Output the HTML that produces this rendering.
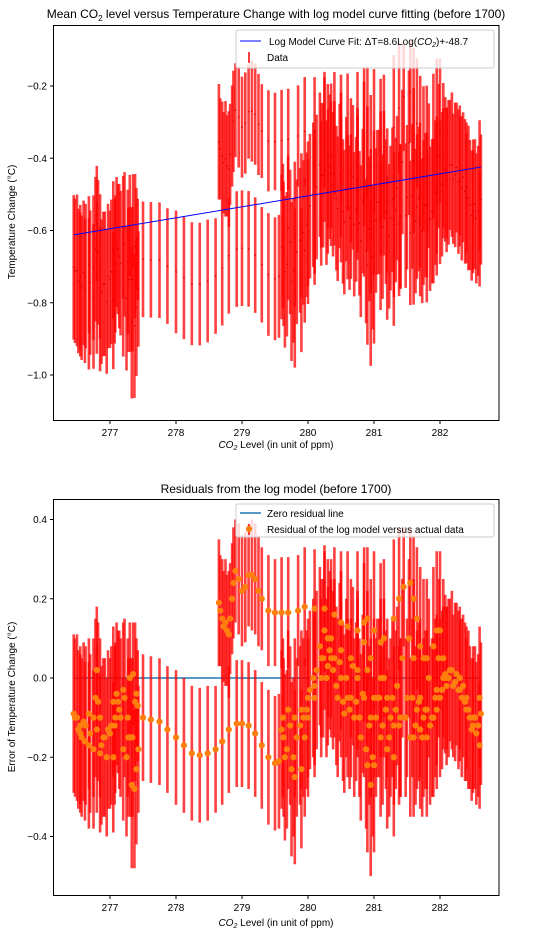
<!DOCTYPE html>
<html><head><meta charset="utf-8"><style>
body{margin:0;background:#fff;}
svg text{font-family:"Liberation Sans","DejaVu Sans",sans-serif;fill:#000;}
</style></head><body>
<svg id="chart" width="545" height="937" viewBox="0 0 545 937" xmlns="http://www.w3.org/2000/svg">
<rect width="545" height="937" fill="#fff"/>
<g id="p1"></g>
<g id="p2"></g>
</svg>
<script>
// CO2 levels (ppm)
const co2Values = [
276.45,276.5,276.55,276.6,276.68,276.75,276.8,276.9,277.0,277.05,277.1,277.2,277.3,277.35,277.4,277.42,
276.55,276.62,276.68,276.75,276.85,276.95,277.05,277.2,277.28,277.33,277.37,277.4,277.43,
276.8,276.82,276.85,276.92,277.02,277.08,277.12,277.16,277.25,277.31,
277.5,277.62,277.75,277.87,278.0,278.12,278.24,278.36,278.48,278.6,278.7,278.8,278.92,279.0,279.1,279.2,279.3,279.4,279.5,279.56,
278.65,278.7,278.75,278.8,278.85,278.9,279.0,279.1,279.2,279.3,279.4,279.5,
279.6,279.7,279.85,279.95,280.1,280.25,280.4,280.5,280.6,280.75,280.85,280.9,281.0,281.1,281.15,281.3,281.38,281.45,281.55,281.6,281.65,281.7,281.75,281.8,281.9,281.95,282.0,282.05,
279.6,279.65,279.75,279.8,279.9,279.95,280.0,280.1,280.2,280.3,280.4,280.5,280.6,280.7,280.8,280.9,280.95,281.0,281.1,281.2,281.3,281.4,281.5,281.6,281.7,281.8,281.95,282.05,282.15,282.3,282.4,282.5,282.6,
279.62,279.7,279.8,279.9,280.0,280.1,280.2,280.3,280.35,280.45,280.55,280.65,280.75,280.85,280.9,280.95,281.0,281.1,281.2,281.3,281.4,281.55,281.65,281.75,281.8,281.9,282.0,282.1,282.2,282.3,282.4,282.5,282.6,
280.25,280.35,280.5,280.65,280.75,280.85,280.95,281.05,281.15,281.25,281.35,281.6,281.7,281.85,281.95,282.1,282.25,282.35,282.45,282.55,282.62,
276.47,276.52,276.57,276.63,276.7,276.78,276.87,276.97,277.07,277.14,277.22,277.27,277.34,277.38,
278.67,278.72,278.77,278.82,278.87,278.95,279.05,279.15,279.25,
279.63,279.68,279.73,279.78,279.83,279.88,279.93,279.98,280.03,280.08,280.13,280.18,280.23,280.28,280.33,280.38,280.43,280.48,280.53,280.58,
280.63,280.68,280.73,280.78,280.83,280.88,280.93,280.98,281.03,281.08,281.13,281.18,281.23,281.28,281.33,281.38,281.43,281.48,281.53,281.58,
281.63,281.68,281.73,281.78,281.83,281.88,281.93,281.98,282.03,282.08,282.13,282.18,282.23,282.28,282.33,282.38,282.43,282.48,282.53,282.58
];
// Residual (temperature minus log-model fit, °C)
const residualValues = [
-0.09,-0.1,-0.12,-0.11,-0.09,-0.1,-0.13,-0.15,-0.14,-0.06,-0.04,-0.03,0.0,0.01,-0.04,-0.07,
-0.14,-0.16,-0.17,-0.18,-0.19,-0.2,-0.2,-0.18,-0.15,-0.27,-0.28,-0.23,-0.18,
0.02,-0.06,-0.1,-0.15,-0.12,-0.1,-0.06,-0.1,-0.2,-0.15,
-0.1,-0.105,-0.11,-0.13,-0.15,-0.17,-0.19,-0.195,-0.19,-0.18,-0.16,-0.13,-0.115,-0.115,-0.12,-0.14,-0.17,-0.2,-0.215,-0.21,
0.19,0.15,0.14,0.11,0.2,0.27,0.22,0.26,0.25,0.2,0.17,0.165,
0.165,0.165,0.17,0.18,0.175,0.175,0.16,0.14,0.13,0.12,0.14,0.15,0.12,0.09,0.1,0.15,0.2,0.23,0.24,0.2,0.15,0.08,0.05,0.05,0.08,0.12,0.12,0.05,
-0.13,-0.2,-0.23,-0.25,-0.23,-0.15,-0.1,-0.05,0.0,0.03,0.05,0.0,-0.05,-0.1,-0.15,-0.22,-0.27,-0.22,-0.15,-0.18,-0.2,-0.1,-0.05,-0.15,-0.13,-0.08,-0.03,0.0,0.02,0.0,-0.05,-0.12,-0.17,
-0.1,-0.08,-0.1,-0.08,-0.05,-0.02,0.05,0.1,0.05,-0.05,-0.09,-0.05,0.0,-0.05,0.02,-0.1,-0.05,0.0,-0.05,-0.12,-0.1,-0.15,-0.08,-0.1,-0.15,-0.1,-0.05,-0.02,-0.02,-0.03,-0.08,-0.1,-0.05,
0.12,0.1,0.07,0.05,0.02,0.09,0.05,-0.05,0.0,-0.1,-0.02,0.05,-0.05,-0.12,-0.08,0.0,0.01,-0.02,-0.1,-0.14,-0.09,
-0.1,-0.13,-0.15,-0.12,-0.14,-0.05,-0.17,-0.13,-0.12,-0.08,-0.05,-0.1,-0.15,-0.06,
0.17,0.13,0.12,0.15,0.24,0.25,0.23,0.26,0.22,
-0.15,-0.18,-0.12,-0.2,-0.15,-0.12,-0.1,-0.08,-0.03,0.0,0.02,0.08,0.05,0.0,0.07,0.02,-0.02,0.04,-0.06,0.0,
-0.08,0.03,-0.06,-0.1,-0.04,-0.18,-0.12,-0.2,-0.1,-0.05,-0.12,-0.08,-0.15,-0.05,-0.08,-0.12,0.05,-0.1,0.1,-0.05,
-0.12,-0.06,-0.15,-0.08,0.0,-0.1,-0.05,0.05,-0.03,0.01,0.0,0.02,-0.01,-0.03,-0.05,-0.06,-0.08,-0.13,-0.1,-0.12
];
// Measurement uncertainty (±°C)
const errValues = [
0.2,0.21,0.2,0.2,0.19,0.2,0.21,0.2,0.19,0.19,0.18,0.17,0.14,0.13,0.14,0.14,
0.2,0.2,0.21,0.2,0.2,0.2,0.19,0.18,0.2,0.21,0.2,0.19,0.16,
0.16,0.2,0.2,0.2,0.2,0.19,0.18,0.2,0.2,0.2,
0.16,0.16,0.16,0.16,0.17,0.17,0.17,0.17,0.17,0.16,0.16,0.16,0.16,0.16,0.16,0.16,0.16,0.17,0.17,0.17,
0.16,0.15,0.16,0.16,0.14,0.13,0.14,0.13,0.14,0.13,0.14,0.135,
0.14,0.14,0.14,0.15,0.15,0.16,0.17,0.18,0.19,0.2,0.19,0.18,0.2,0.2,0.2,0.2,0.18,0.15,0.14,0.16,0.18,0.2,0.2,0.2,0.2,0.2,0.2,0.2,
0.2,0.21,0.22,0.22,0.2,0.2,0.2,0.2,0.2,0.2,0.2,0.2,0.2,0.2,0.21,0.22,0.23,0.22,0.2,0.2,0.2,0.2,0.2,0.2,0.2,0.2,0.19,0.18,0.18,0.18,0.18,0.17,0.16,
0.2,0.2,0.2,0.2,0.2,0.2,0.2,0.2,0.2,0.2,0.2,0.2,0.2,0.2,0.2,0.2,0.2,0.2,0.2,0.2,0.2,0.2,0.2,0.2,0.2,0.2,0.2,0.2,0.18,0.18,0.18,0.18,0.18,
0.2,0.2,0.2,0.2,0.2,0.2,0.2,0.2,0.2,0.2,0.2,0.2,0.2,0.2,0.2,0.18,0.18,0.18,0.18,0.18,0.18,
0.2,0.2,0.2,0.2,0.2,0.2,0.2,0.2,0.2,0.2,0.2,0.2,0.2,0.2,
0.14,0.14,0.14,0.14,0.14,0.14,0.14,0.14,0.14,
0.2,0.2,0.2,0.2,0.2,0.2,0.2,0.2,0.2,0.2,0.2,0.2,0.2,0.2,0.2,0.2,0.2,0.2,0.2,0.2,
0.2,0.2,0.2,0.2,0.2,0.2,0.2,0.2,0.2,0.2,0.2,0.2,0.2,0.2,0.2,0.2,0.2,0.2,0.2,0.2,
0.2,0.2,0.2,0.2,0.2,0.2,0.2,0.2,0.2,0.2,0.2,0.2,0.2,0.2,0.2,0.2,0.2,0.18,0.18,0.18
];
// log model parameters
const fitSlope = 8.5, fitRefX = 276.45, fitRefY = -0.612;
const xTicks = [277,278,279,280,281,282];
const y1Ticks = [-0.2,-0.4,-0.6,-0.8,-1.0];
const y2Ticks = [0.4,0.2,0.0,-0.2,-0.4];

const NS="http://www.w3.org/2000/svg";
function mk(parent,tag,attrs,text){const e=document.createElementNS(NS,tag);for(const k in attrs)e.setAttribute(k,attrs[k]);if(text!==undefined)e.textContent=text;parent.appendChild(e);return e;}
function fitF(x){return fitRefY+fitSlope*Math.log(x/fitRefX);}
const X=x=>110+(x-277)*66;
const Y1=v=>86+(-0.2-v)/0.2*72.25;
const Y2=v=>678-v/0.2*79.25;
const minX=Math.min(...co2Values), maxX=Math.max(...co2Values);

function axes(g,top,bottom,yTicks,Y,title,titleY,ylabel,ylabelY,xlabY){
  mk(g,'rect',{x:53.5,y:top+0.5,width:445.5,height:bottom-top,fill:'none',stroke:'#000','stroke-width':1,});
  xTicks.forEach(t=>{const x=X(t);
    mk(g,'line',{x1:x,x2:x,y1:bottom+0.5,y2:bottom+4,stroke:'#000',});
    mk(g,'text',{x:x,y:bottom+16,'font-size':10,'text-anchor':'middle',},String(t));});
  yTicks.forEach(t=>{const y=Y(t);
    mk(g,'line',{x1:50,x2:53.5,y1:y,y2:y,stroke:'#000',});
    mk(g,'text',{x:47,y:y+3.5,'font-size':10,'text-anchor':'end',},(t<0?'\u2212':'')+Math.abs(t).toFixed(1));});
  const tt=mk(g,'text',{x:276,y:titleY,'font-size':12,'text-anchor':'middle',});
  tt.innerHTML=title;
  const xl=mk(g,'text',{x:276,y:xlabY,'font-size':10,'text-anchor':'middle',});
  xl.innerHTML='<tspan font-style="italic">CO</tspan><tspan font-size="7" dy="2" font-style="italic">2</tspan><tspan dy="-2"> Level (in unit of ppm)</tspan>';
  mk(g,'text',{x:15,y:ylabelY,'font-size':10,'text-anchor':'middle',transform:`rotate(-90 15 ${ylabelY})`,},ylabel);
}
function bars(g,Y,vals){
  co2Values.forEach((c,i)=>{const x=X(c),v=vals[i],e=errValues[i];
    const b=mk(g,'line',{x1:x,x2:x,y1:Y(v+e),y2:Y(v-e),stroke:'rgba(255,0,0,0.75)','stroke-width':2.6});
    
    });
}
// Plot 1
const p1=document.getElementById('p1');
const temps=co2Values.map((c,i)=>fitF(c)+residualValues[i]);
bars(p1,Y1,temps);
co2Values.forEach((c,i)=>{const d=mk(p1,'circle',{cx:X(c),cy:Y1(temps[i]),r:0.8,fill:'#d00'});
  });
mk(p1,'line',{x1:X(minX),y1:Y1(fitF(minX)),x2:X(maxX),y2:Y1(fitF(maxX)),stroke:'#0000ff','stroke-width':1,});
axes(p1,25,420,y1Ticks,Y1,'Mean CO<tspan font-size="8" dy="3">2</tspan><tspan dy="-3"> level versus Temperature Change with log model curve fitting (before 1700)</tspan>',18,'Temperature Change (°C)',222,448);
const l1=mk(p1,'g',{});
mk(l1,'rect',{x:236,y:30,width:258,height:38,rx:2,fill:'rgba(255,255,255,0.8)',stroke:'#ccc'});
mk(l1,'line',{x1:240,x2:261,y1:41,y2:41,stroke:'#0000ff',});
const lt=mk(l1,'text',{x:269,y:45,'font-size':10,});
lt.innerHTML='Log Model Curve Fit: ΔT=8.6Log(<tspan font-style="italic">CO</tspan><tspan font-size="7" dy="2" font-style="italic">2</tspan><tspan dy="-2">)+-48.7</tspan>';
mk(l1,'line',{x1:249,x2:249,y1:52,y2:63,stroke:'rgba(255,0,0,0.75)','stroke-width':2,});
mk(l1,'text',{x:267,y:61,'font-size':10,},'Data');

// Plot 2
const p2=document.getElementById('p2');
mk(p2,'line',{x1:X(minX),x2:X(maxX),y1:Y2(0),y2:Y2(0),stroke:'#1f77b4','stroke-width':1.5,});
bars(p2,Y2,residualValues);
co2Values.forEach((c,i)=>{const d=mk(p2,'circle',{cx:X(c),cy:Y2(residualValues[i]),r:3.1,fill:'#ff7f0e'});
  });
axes(p2,499,895,y2Ticks,Y2,'Residuals from the log model (before 1700)',493,'Error of Temperature Change (°C)',697,926);
const l2=mk(p2,'g',{});
mk(l2,'rect',{x:236,y:504,width:258,height:33,rx:2,fill:'rgba(255,255,255,0.8)',stroke:'#ccc'});
mk(l2,'line',{x1:240,x2:261,y1:513,y2:513,stroke:'#1f77b4','stroke-width':1.5,});
mk(l2,'text',{x:267,y:517,'font-size':10,},'Zero residual line');
mk(l2,'line',{x1:249,x2:249,y1:524,y2:535,stroke:'rgba(255,0,0,0.75)','stroke-width':2,});
mk(l2,'circle',{cx:249,cy:529,r:3.1,fill:'#ff7f0e',});
mk(l2,'text',{x:267,y:533,'font-size':10,},'Residual of the log model versus actual data');
</script>
</body></html>
